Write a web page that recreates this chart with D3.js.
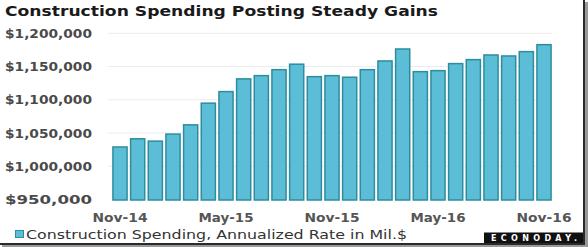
<!DOCTYPE html>
<html><head><meta charset="utf-8">
<script src="https://cdn.jsdelivr.net/npm/d3@7"></script>
<style>html,body{margin:0;padding:0;background:#fff;}svg{display:block;}</style>
</head><body>
<script>
const months = ["Nov-14","Dec-14","Jan-15","Feb-15","Mar-15","Apr-15","May-15","Jun-15","Jul-15","Aug-15","Sep-15","Oct-15","Nov-15","Dec-15","Jan-16","Feb-16","Mar-16","Apr-16","May-16","Jun-16","Jul-16","Aug-16","Sep-16","Oct-16","Nov-16"];
const spending = [1029000,1041300,1037800,1048400,1062300,1094900,1112300,1131400,1136300,1145300,1153500,1134800,1136300,1133900,1145300,1158400,1176400,1142300,1143800,1154400,1160400,1167400,1165900,1172400,1182900];
const yTicks = [950000,1000000,1050000,1100000,1150000,1200000];
const xTickLabels = ["Nov-14","May-15","Nov-15","May-16","Nov-16"];
const title = "Construction Spending Posting Steady Gains";
const legendLabel = "Construction Spending, Annualized Rate in Mil.$";

const W = 588, H = 247;
const svg = d3.select("body").append("svg").attr("width", W).attr("height", H);

const x = d3.scaleBand().domain(months).range([109.4, 554.6]).paddingInner(0.2).paddingOuter(0.2);
const y = d3.scaleLinear().domain([950000, 1200000]).range([199.5, 33.3]);

// title
svg.append("text").attr("x", 5).attr("y", 15.5)
  .attr("font-family", "DejaVu Sans").attr("font-weight", "bold").attr("font-size", 14)
  .attr("fill", "#1a1a1a").attr("textLength", 433).attr("lengthAdjust", "spacingAndGlyphs")
  .text(title);

// gridlines
svg.append("g").selectAll("line").data(yTicks.slice(1)).join("line")
  .attr("x1", 108).attr("x2", 552)
  .attr("y1", d => y(d)).attr("y2", d => y(d))
  .attr("stroke", "#ececec").attr("stroke-width", 1);

// y axis labels
const fmt = d3.format("$,");
svg.append("g").selectAll("text").data(yTicks).join("text")
  .attr("x", 5).attr("y", d => y(d) + 4.5)
  .attr("font-family", "DejaVu Sans").attr("font-weight", "bold").attr("font-size", 12)
  .attr("fill", "#4a4a4a").attr("textLength", 87).attr("lengthAdjust", "spacingAndGlyphs")
  .text(d => fmt(d));

// bars
svg.append("g").selectAll("rect").data(months).join("rect")
  .attr("x", d => x(d)).attr("width", x.bandwidth())
  .attr("y", (d, i) => y(spending[i]))
  .attr("height", (d, i) => y(950000) - y(spending[i]) + 0.5)
  .attr("fill", "#5cbdd6").attr("stroke", "#2d8d9e").attr("stroke-width", 1.5);

// x labels
svg.append("g").selectAll("text").data(xTickLabels).join("text")
  .attr("x", d => x(d) + x.bandwidth() / 2).attr("y", 221.5)
  .attr("text-anchor", "middle")
  .attr("font-family", "DejaVu Sans").attr("font-weight", "bold").attr("font-size", 12)
  .attr("fill", "#555").attr("textLength", 55).attr("lengthAdjust", "spacingAndGlyphs")
  .text(d => d);

// legend
svg.append("rect").attr("x", 15.5).attr("y", 230.5).attr("width", 8).attr("height", 7)
  .attr("fill", "#5cbdd6").attr("stroke", "#2d8d9e").attr("stroke-width", 1);
svg.append("text").attr("x", 26).attr("y", 239)
  .attr("font-family", "DejaVu Sans").attr("font-size", 13)
  .attr("fill", "#333").attr("textLength", 381).attr("lengthAdjust", "spacingAndGlyphs")
  .text(legendLabel);

// logo
svg.append("rect").attr("x", 484).attr("y", 232.5).attr("width", 100).attr("height", 11).attr("fill", "#111");
svg.append("text").attr("x", 534).attr("y", 241.2).attr("text-anchor", "middle")
  .attr("font-family", "DejaVu Sans").attr("font-weight", "bold").attr("font-size", 8)
  .attr("fill", "#fff").attr("textLength", 86).attr("lengthAdjust", "spacing")
  .text("ECONODAY.");

// frame shadow (right and bottom)
svg.append("rect").attr("x", 583).attr("y", 0).attr("width", 2).attr("height", 245).attr("fill", "#2a2a2a");
svg.append("rect").attr("x", 585).attr("y", 2).attr("width", 3).attr("height", 245).attr("fill", "#9a9a9a");
svg.append("rect").attr("x", 0).attr("y", 243).attr("width", 585).attr("height", 2).attr("fill", "#2a2a2a");
svg.append("rect").attr("x", 2).attr("y", 245).attr("width", 586).attr("height", 2).attr("fill", "#9a9a9a");
</script>
</body></html>
